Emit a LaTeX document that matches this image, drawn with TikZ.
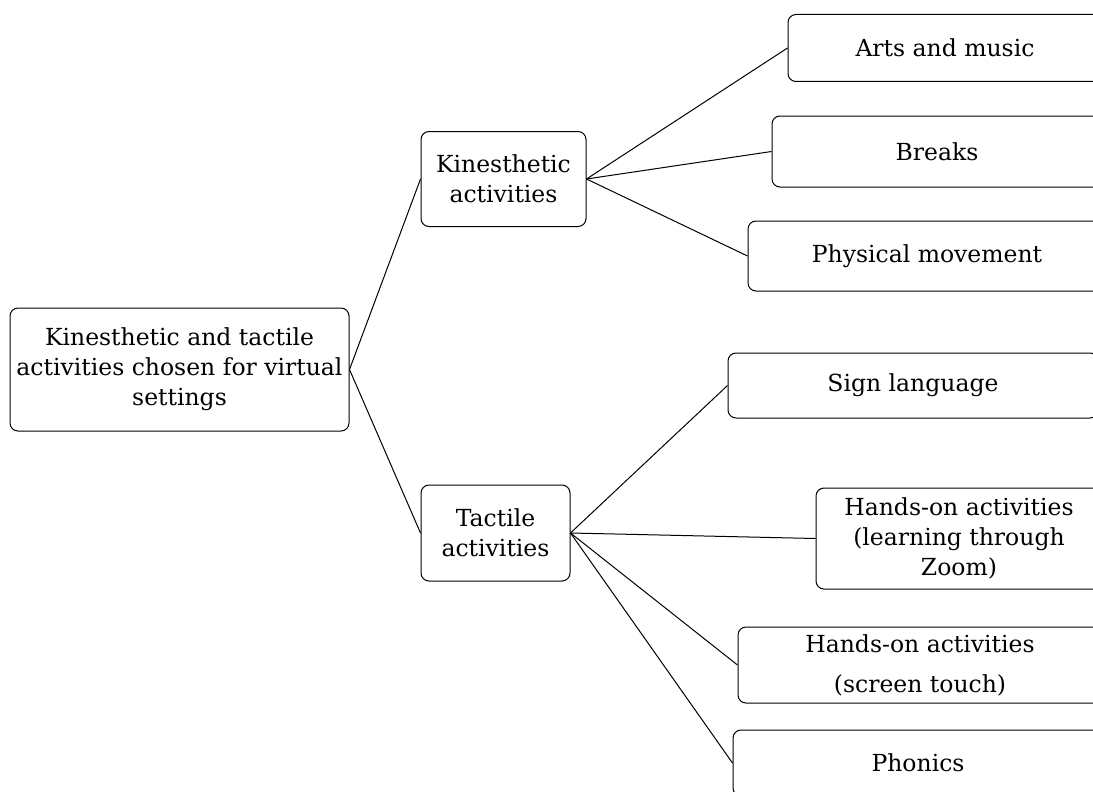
\documentclass[tikz,border=0pt]{standalone}
\usepackage{fontspec}
\setmainfont{DejaVu Serif}
\begin{document}
\begin{tikzpicture}[x=1pt,y=-1pt,
  box/.style={draw, line width=1pt, rounded corners=8pt, align=center,
    inner sep=0pt, font=\fontsize{23.5}{30}\selectfont},
  conn/.style={line width=1pt}]
\useasboundingbox (0,0) rectangle (1093,792);
\clip (0,0) rectangle (1093,792);
\node[box, minimum width=339pt, minimum height=123pt] (root) at (179.5,369.5)
  {Kinesthetic and tactile\\activities chosen for virtual\\settings};
\node[box, minimum width=165pt, minimum height=95pt] (kin) at (503.5,179)
  {Kinesthetic\\activities};
\node[box, minimum width=149pt, minimum height=96pt] (tac) at (495.5,533)
  {Tactile\\activities};
\node[box, minimum width=314pt, minimum height=67pt] (arts) at (945,48) {Arts and music};
\node[box, minimum width=330pt, minimum height=71pt] (breaks) at (937,151.5) {Breaks};
\node[box, minimum width=358pt, minimum height=70pt] (phys) at (927,256) {Physical movement};
\node[box, minimum width=370pt, minimum height=65pt] (sign) at (913,385.5) {Sign language};
\node[box, minimum width=286pt, minimum height=101pt] (hz) at (959,538.5)
  {Hands-on activities\\(learning through\\Zoom)};
\node[box, minimum width=364pt, minimum height=76pt] (hs) at (920,665)
  {Hands-on activities\\[10pt](screen touch)};
\node[box, minimum width=370pt, minimum height=66pt] (phon) at (918,763) {Phonics};
\draw[conn] (root.east) -- (kin.west);
\draw[conn] (root.east) -- (tac.west);
\draw[conn] (kin.east) -- (arts.west);
\draw[conn] (kin.east) -- (breaks.west);
\draw[conn] (kin.east) -- (phys.west);
\draw[conn] (tac.east) -- (sign.west);
\draw[conn] (tac.east) -- (hz.west);
\draw[conn] (tac.east) -- (hs.west);
\draw[conn] (tac.east) -- (phon.west);
\end{tikzpicture}
\end{document}
